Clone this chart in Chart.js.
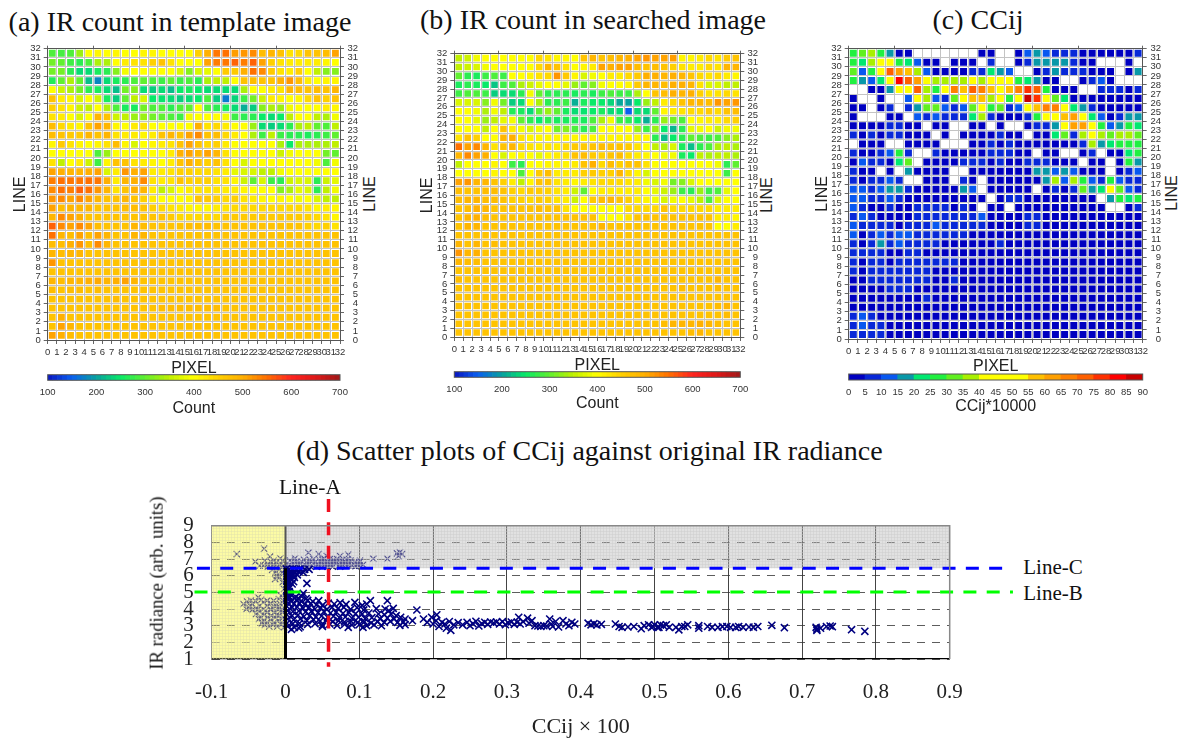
<!DOCTYPE html>
<html><head><meta charset="utf-8">
<script src="https://cdn.jsdelivr.net/npm/chart.js@4/dist/chart.umd.min.js"></script>
<style>
html,body{margin:0;padding:0;background:#fff;width:1179px;height:740px;overflow:hidden}
canvas{position:absolute;display:block}
.t{position:absolute;white-space:nowrap;color:#111;transform:translate(-50%,-50%);line-height:1;z-index:2}
.serif{font-family:"Liberation Serif",serif}
.sans{font-family:"Liberation Sans",sans-serif;color:#222}
.rot{transform:translate(-50%,-50%) rotate(-90deg)}
</style></head><body>
<div class="t serif" style="left:180px;top:22px;font-size:28px">(a) IR count in template image</div>
<div class="t serif" style="left:593px;top:20px;font-size:28px">(b) IR count in searched image</div>
<div class="t serif" style="left:978px;top:20px;font-size:28px">(c) CCij</div>
<div class="t serif" style="left:589.5px;top:451px;font-size:28px">(d) Scatter plots of CCij against original IR radiance</div>
<div class="t sans rot" style="left:370px;top:194px;font-size:16px">LINE</div>
<div class="t sans rot" style="left:767px;top:195px;font-size:16px">LINE</div>
<div class="t sans rot" style="left:1172px;top:193px;font-size:16px">LINE</div>
<div class="t serif rot" style="left:157px;top:583px;font-size:18.7px">IR radiance (arb. units)</div>
<div class="t serif" style="left:310px;top:488px;font-size:21.5px">Line-A</div>
<div class="t serif" style="left:1053px;top:567px;font-size:21px">Line-C</div>
<div class="t serif" style="left:1053px;top:593px;font-size:21px">Line-B</div>
<canvas id="a"></canvas><canvas id="b"></canvas><canvas id="c"></canvas>
<canvas id="ba"></canvas><canvas id="bb"></canvas><canvas id="bc"></canvas>
<canvas id="d"></canvas>
<script>
// rows are listed from the top row of the panel (line 31-32) down to line 0-1
const templateCounts = [
[290,285,290,330,400,410,400,410,400,400,410,410,400,400,400,400,450,500,545,550,515,520,530,480,490,470,430,440,470,470,480,510],
[310,300,280,270,290,340,340,400,420,430,430,450,470,430,400,400,400,510,540,545,560,540,560,510,450,430,420,420,420,420,410,400],
[310,310,270,240,240,260,270,320,390,400,400,400,400,400,370,320,370,380,400,460,460,500,550,530,460,430,420,450,400,350,320,320],
[265,300,340,300,220,180,240,260,270,290,300,290,280,300,280,290,270,340,350,350,400,470,480,470,470,500,520,480,420,400,410,410],
[400,360,340,310,270,260,240,220,310,320,240,230,240,220,250,260,250,240,240,240,240,340,400,400,420,430,490,480,470,480,470,490],
[470,420,410,370,400,360,260,230,300,350,370,250,245,240,230,240,250,290,230,170,235,280,310,360,420,410,400,410,440,470,450,470],
[450,430,410,360,350,400,340,290,260,260,310,290,290,270,290,300,400,290,270,260,240,210,230,320,340,330,390,400,400,400,420,410],
[430,420,400,370,400,490,470,360,350,330,330,310,300,290,280,390,400,400,400,390,280,270,270,250,240,250,350,400,400,350,340,390],
[480,440,420,410,470,510,490,410,400,420,430,400,400,400,400,400,500,430,440,420,400,400,330,240,230,240,270,340,350,300,290,350],
[480,470,460,460,490,470,490,430,420,420,410,420,470,490,470,510,530,470,480,440,420,400,340,280,350,280,270,270,260,270,280,300],
[410,460,430,410,400,410,430,480,410,370,400,410,420,430,470,510,470,440,450,420,400,400,400,400,400,340,250,340,340,340,340,350],
[400,400,400,400,400,290,330,400,400,400,400,400,400,420,500,510,490,510,490,430,400,400,400,400,400,360,390,400,400,400,310,300],
[430,350,400,420,360,280,410,470,470,430,420,410,400,420,470,500,470,450,470,430,400,370,400,400,400,400,400,400,400,390,290,390],
[510,500,490,490,500,510,370,420,520,500,510,420,420,430,450,450,440,440,430,420,380,370,370,350,350,390,400,400,400,400,400,400],
[540,550,545,545,550,545,500,420,490,500,530,430,420,430,470,450,450,450,430,430,410,360,300,370,280,270,360,370,370,270,360,380],
[530,550,540,560,550,520,490,430,470,500,490,420,350,370,400,420,430,430,430,420,420,410,400,400,400,320,340,380,370,270,350,390],
[520,530,510,530,510,490,470,470,490,470,450,420,400,400,400,410,470,460,450,440,450,430,420,410,400,410,400,390,400,370,350,350],
[510,480,490,490,490,470,470,470,480,480,470,450,440,430,420,410,410,410,420,430,440,440,440,440,440,440,440,440,430,410,420,410],
[490,530,510,500,470,470,470,470,470,470,470,470,470,460,440,440,440,440,440,460,460,460,460,460,460,460,460,460,450,440,430,410],
[560,530,510,530,510,480,470,470,470,490,480,470,470,470,470,480,480,480,470,470,470,470,470,470,470,470,470,470,450,440,450,430],
[550,490,480,510,480,510,490,470,470,490,490,470,470,470,470,470,470,470,470,470,470,470,470,470,470,470,470,470,470,470,470,470],
[480,480,500,520,480,530,490,470,470,470,470,470,470,470,470,470,470,470,470,470,470,470,470,470,470,470,470,470,470,470,470,470],
[490,480,490,490,470,470,470,470,470,470,470,470,470,470,470,470,470,470,470,470,470,470,470,470,470,470,470,470,470,470,470,470],
[520,470,470,470,470,470,470,470,470,470,470,470,470,470,470,470,470,470,470,470,470,470,470,470,470,470,470,470,470,470,470,470],
[470,470,470,470,470,470,470,470,470,470,470,470,470,470,470,470,470,470,470,470,470,470,470,470,470,470,470,470,470,470,470,470],
[490,480,490,490,500,505,490,500,510,490,470,470,470,470,470,470,470,470,470,470,470,470,470,470,470,470,470,470,470,470,470,470],
[480,470,480,480,470,480,470,470,470,470,470,470,470,470,470,470,470,470,470,470,470,470,470,470,470,470,470,470,470,470,470,470],
[470,470,470,470,470,470,470,480,470,470,470,470,470,470,470,470,470,470,470,470,470,470,470,470,470,470,470,470,470,470,470,470],
[470,470,470,470,470,470,470,470,470,470,470,470,480,480,480,480,480,480,480,470,470,470,470,470,470,470,470,470,470,470,470,470],
[470,500,470,470,470,470,470,470,470,470,470,470,470,470,470,470,470,470,470,470,470,470,470,470,470,470,470,470,470,470,470,470],
[470,510,490,470,470,470,470,470,470,470,470,470,470,470,470,470,470,470,470,470,470,470,470,470,470,470,470,470,470,470,470,470],
[510,500,480,470,470,470,470,470,470,470,470,470,470,470,470,470,470,470,470,470,470,470,470,470,470,470,470,470,470,470,470,470]
];
const searchedCounts = [
[350,360,390,400,400,400,400,400,400,440,430,410,410,400,470,490,470,480,490,500,510,520,510,510,515,410,410,420,440,430,460,470],
[350,360,370,390,400,400,400,400,400,440,490,470,430,400,410,420,510,500,510,510,480,470,480,470,450,430,420,420,440,430,490,490],
[300,270,260,280,290,280,400,400,410,430,440,520,460,410,370,390,400,420,420,440,460,500,500,490,500,490,470,440,430,440,420,410],
[260,270,260,250,225,280,290,340,360,380,400,400,380,330,300,320,390,400,400,410,460,490,490,480,500,500,490,430,370,370,350,350],
[280,290,290,280,230,240,240,270,390,300,270,270,270,260,270,260,280,290,280,280,340,400,470,480,500,490,500,450,430,430,440,430],
[370,370,370,320,390,310,230,240,400,340,270,270,280,210,260,250,250,235,205,200,250,330,350,420,440,470,490,490,480,520,510,520],
[400,400,390,340,390,350,265,260,240,300,330,300,260,240,245,250,260,240,240,150,240,240,300,410,420,430,440,440,460,440,470,480],
[400,400,380,330,350,380,390,300,270,250,270,260,260,265,260,290,340,390,280,270,250,210,270,330,310,290,400,410,420,420,440,450],
[400,400,400,350,400,470,420,390,370,390,400,310,320,290,270,290,400,400,400,400,330,280,330,250,215,270,380,390,400,360,390,390],
[430,470,450,400,400,490,500,430,410,410,410,410,410,410,410,410,410,410,410,410,410,410,270,220,250,270,300,290,280,290,320,340],
[550,510,530,490,430,470,490,440,430,420,430,420,440,460,460,470,480,470,470,460,430,400,350,340,370,260,220,270,290,340,350,340],
[490,530,510,500,400,370,400,410,400,380,410,420,430,470,480,460,450,470,480,440,420,410,400,390,390,260,250,350,340,350,350,340],
[350,400,400,400,410,400,280,270,400,400,410,410,410,420,470,500,440,480,450,470,470,430,400,400,400,400,400,400,400,390,270,300],
[400,400,400,400,410,400,400,290,400,460,480,420,420,420,450,460,450,450,490,440,410,370,400,400,400,400,400,400,400,400,280,400],
[510,520,490,490,470,450,420,350,410,470,470,430,420,410,420,430,440,440,440,430,420,390,370,390,310,320,370,400,400,400,400,400],
[480,470,470,480,480,470,450,440,460,460,450,430,420,360,300,400,420,420,420,420,420,400,380,360,330,280,270,330,280,290,380,400],
[480,490,490,480,480,470,450,450,440,460,450,430,420,360,400,460,480,490,470,450,420,410,390,370,390,400,380,350,290,370,400,400],
[470,480,500,490,470,470,470,470,470,480,470,470,430,400,400,400,400,400,400,440,440,440,440,470,440,440,440,440,440,420,420,420],
[470,490,500,480,470,470,470,470,470,470,470,470,470,470,470,470,400,400,400,430,470,470,470,470,470,470,470,470,470,420,420,410],
[470,490,490,470,470,470,470,470,470,470,470,470,470,470,470,470,490,470,470,470,470,470,470,470,470,470,470,470,470,400,400,420],
[470,470,470,470,470,470,470,470,470,470,470,470,470,470,470,470,470,470,470,470,470,470,470,470,470,470,470,470,470,470,470,470],
[490,470,490,470,480,470,470,470,470,470,470,470,470,470,470,470,470,470,470,470,470,470,470,470,470,470,470,470,470,470,470,470],
[520,490,500,470,470,470,470,470,470,470,470,470,470,470,470,470,470,470,470,470,470,470,470,470,470,470,470,470,470,470,470,470],
[490,480,480,470,470,470,470,470,470,470,470,470,470,470,470,470,470,470,470,470,470,470,470,470,470,470,470,470,470,470,470,470],
[470,470,470,470,470,470,470,470,470,470,470,470,470,470,470,470,470,470,470,470,470,470,470,470,470,470,470,470,470,470,470,470],
[480,470,470,470,470,470,470,470,470,470,470,470,470,470,470,470,470,470,470,470,470,470,470,470,470,470,470,470,470,490,470,470],
[470,470,470,470,470,470,470,470,470,470,470,470,470,470,470,470,470,470,470,470,470,470,470,470,470,480,470,470,470,480,470,470],
[470,470,470,470,470,470,470,470,470,470,470,470,470,470,470,470,470,470,470,470,470,470,470,470,470,470,470,470,470,470,470,470],
[470,470,470,470,470,470,470,470,470,470,470,470,470,470,470,470,470,470,470,470,470,470,470,470,470,470,470,470,470,480,490,470],
[470,470,470,470,470,470,470,470,470,470,470,470,470,470,470,470,470,470,470,470,470,470,470,470,470,470,470,470,470,470,480,470],
[470,470,470,470,470,470,470,470,470,470,470,470,470,470,470,470,470,470,470,470,470,470,470,480,490,490,490,500,490,480,470,470],
[470,470,470,470,470,470,470,470,470,470,470,470,470,470,470,470,470,470,470,470,470,470,470,470,470,470,480,490,470,470,470,470]
];
const _ = null; // no value: the cell stays white
const ccijValues = [
[27,30,37,27,17,2,2,_,_,_,_,_,_,_,2,2,_,_,2,12,17,12,7,7,7,2,2,2,2,2,2,7],
[27,22,35,45,45,25,22,12,2,2,_,2,2,2,_,7,_,_,2,7,17,17,17,17,7,2,2,_,_,_,2,_],
[30,12,25,45,72,60,57,37,12,2,2,2,2,7,7,22,17,12,_,_,2,7,17,7,7,7,2,2,2,_,2,17],
[25,17,12,22,45,82,72,60,45,38,37,37,37,42,38,42,45,45,27,22,17,2,2,_,_,2,7,12,2,_,_,_],
[_,_,2,2,17,45,45,70,37,25,45,65,57,70,65,57,45,57,65,75,72,25,2,2,2,_,_,7,7,7,2,7],
[2,_,_,2,_,_,12,45,37,12,7,30,45,57,57,38,45,27,42,87,77,45,30,22,2,2,2,2,2,2,2,2],
[2,2,_,2,7,_,7,17,30,30,12,7,12,32,45,27,30,7,12,45,57,65,67,45,22,17,7,2,2,2,2,2],
[2,_,_,_,2,2,_,12,7,12,7,7,7,22,35,7,2,2,2,7,27,45,45,57,60,45,22,12,2,7,17,17],
[2,2,2,2,7,7,2,2,_,2,2,_,_,2,2,_,2,_,_,2,7,7,17,45,60,62,45,27,12,17,25,22],
[7,2,7,2,7,7,2,2,2,_,2,_,2,2,2,2,7,2,2,_,2,2,22,30,7,37,45,37,33,37,37,33],
[_,2,2,2,_,_,2,2,2,2,_,_,_,2,2,7,2,7,2,2,2,2,2,2,2,7,37,17,22,25,25,27],
[7,2,2,7,12,27,7,_,_,7,2,2,2,2,2,7,7,7,2,2,_,2,2,_,_,2,7,_,2,2,22,25],
[2,12,7,7,2,22,30,_,2,2,2,2,7,7,7,2,7,2,2,7,7,7,2,2,2,_,2,2,_,2,25,17],
[7,2,2,_,2,_,17,2,2,2,2,_,_,2,2,2,2,2,2,2,17,17,12,17,12,2,2,2,_,2,7,12],
[7,2,7,7,12,7,_,_,2,2,2,_,7,2,_,2,2,2,2,2,2,17,37,12,37,27,12,7,25,12,7,7],
[12,12,7,12,17,17,7,2,2,2,2,2,17,12,_,2,2,2,2,2,_,2,7,2,7,30,17,22,45,30,12,7],
[12,12,7,7,12,7,2,2,2,2,2,2,2,2,2,_,2,7,7,2,2,2,2,2,2,2,2,_,17,25,22,25],
[12,7,2,2,7,2,2,7,7,7,7,2,7,2,_,2,2,_,2,2,2,2,2,2,2,2,2,2,_,_,2,7],
[7,12,7,2,2,2,2,7,7,7,7,7,7,7,12,2,2,2,2,7,7,2,2,2,2,2,2,2,2,2,2,2],
[12,7,7,7,7,2,7,7,7,12,7,7,7,7,7,2,2,2,2,7,7,2,2,2,2,2,2,2,2,2,2,2],
[12,2,7,12,7,12,12,7,7,7,7,7,7,2,2,2,2,2,2,2,2,2,2,2,2,2,2,2,2,2,2,2],
[7,2,7,17,7,12,7,7,7,7,2,2,2,2,2,2,7,2,2,2,2,2,2,2,2,2,2,2,2,2,2,2],
[7,7,7,7,2,2,7,7,2,2,2,2,2,2,2,2,2,2,2,2,2,2,2,2,2,2,2,2,2,2,2,2],
[7,2,7,7,2,7,7,7,7,7,7,7,2,2,2,2,2,2,2,2,2,2,2,2,2,2,2,2,2,2,2,2],
[7,2,7,7,7,7,7,7,7,2,2,2,2,2,2,2,2,2,2,2,2,2,2,2,2,2,2,2,2,2,2,2],
[2,2,7,7,7,7,7,7,7,2,2,7,2,2,2,2,2,2,2,2,2,2,2,2,2,2,2,2,2,2,2,2],
[2,2,2,2,7,7,7,2,2,2,2,2,2,2,2,2,2,2,2,2,2,2,2,2,2,2,2,2,2,2,2,2],
[2,2,2,2,2,2,2,2,7,2,2,2,2,2,2,2,2,2,2,2,2,2,2,2,2,2,2,2,2,2,2,2],
[2,2,2,2,2,2,2,2,2,2,2,2,2,2,2,2,2,2,2,2,2,2,2,2,2,2,2,2,2,2,2,2],
[7,12,7,2,2,2,2,2,2,2,2,2,2,2,2,2,2,2,2,2,2,2,2,2,2,2,2,2,2,2,2,2],
[7,12,7,7,2,2,2,2,2,2,2,2,2,2,2,2,2,2,2,2,2,2,2,2,2,2,2,2,2,2,2,2],
[7,7,7,7,2,2,2,2,2,2,2,2,2,2,2,2,2,2,2,2,2,2,2,2,2,2,2,2,2,2,2,2]
];
const countStops = [[100,'#0a14c0'],[150,'#0a60f0'],[200,'#08a0a0'],[250,'#08ea68'],[300,'#60f030'],[350,'#c0f000'],[400,'#ffff00'],[450,'#ffd000'],[500,'#ffb000'],[550,'#ff7000'],[600,'#ff2420'],[650,'#e01818'],[700,'#a01818']];
const ccijPalette = ['#0000c0','#0828d8','#0858f0','#0898a8','#00e870','#20f040','#60f020','#a8f000','#ffff00','#ffff00','#ffff00','#ffc000','#ffa000','#ff8000','#ff6000','#ff3000','#ff0000','#c80000'];
const lineTicks = {min:0,max:32,step:1};
const countTickStep = 100, ccijTickStep = 5;

// (d) scatter points, [CCij x 100, IR radiance]
const columnNearZero = [[0.001,6.4],[0.005,6.38],[0.01,6.4],[0.015,6.38],[0.02,6.4],[0.026,6.38],[0.032,6.38],[0.002,6.25],[0.007,6.22],[0.012,6.25],[0.018,6.24],[0.024,6.2],[0.002,6.1],[0.006,6.08],[0.011,6.1],[0.016,6.05],[0.002,5.95],[0.006,5.92],[0.012,5.9],[0.002,5.8],[0.007,5.78],[0.002,5.65],[0.011,5.64],[0.029,5.54],[0.003,5.5],[0.002,5.35],[0.006,5.3],[0.002,5.15],[0.005,5.05],[0.003,4.95],[0.024,4.94],[0.002,4.8],[0.022,4.75],[0.006,4.7],[0.012,4.65],[0.028,4.62],[0.004,6.0],[0.009,6.0],[0.004,5.7],[0.009,5.5],[0.004,5.2],[0.002,4.7],[0.008,4.85],[0.014,4.72],[0.018,4.62]];
const lowerCloud = [[0.002,4.6],[0.008,4.5],[0.015,4.55],[0.021,4.48],[0.03,4.52],[0.037,4.45],[0.045,4.5],[0.004,4.35],[0.011,4.3],[0.019,4.34],[0.026,4.28],[0.034,4.32],[0.042,4.26],[0.05,4.22],[0.058,4.35],[0.066,4.3],[0.074,4.38],[0.082,4.28],[0.094,4.4],[0.104,4.22],[0.115,4.5],[0.11,4.3],[0.138,4.5],
[0.002,4.15],[0.009,4.1],[0.016,4.12],[0.024,4.05],[0.032,4.1],[0.04,4.0],[0.048,4.06],[0.056,3.98],[0.063,4.1],[0.071,4.02],[0.079,4.1],[0.088,3.98],[0.097,4.08],[0.106,3.95],[0.123,4.02],[0.135,4.0],[0.146,4.04],[0.14,3.9],
[0.003,3.9],[0.01,3.85],[0.018,3.88],[0.027,3.82],[0.035,3.86],[0.044,3.78],[0.052,3.84],[0.061,3.76],[0.069,3.82],[0.078,3.74],[0.086,3.8],[0.095,3.72],[0.104,3.7],[0.113,3.76],[0.126,3.7],[0.134,3.66],[0.143,3.7],[0.15,3.6],
[0.002,3.65],[0.009,3.6],[0.017,3.64],[0.025,3.55],[0.033,3.6],[0.041,3.52],[0.049,3.58],[0.057,3.5],[0.065,3.56],[0.073,3.48],[0.081,3.52],[0.09,3.44],[0.099,3.5],[0.108,3.42],[0.117,3.48],[0.128,3.42],[0.138,3.46],[0.147,3.4],[0.156,3.5],[0.162,3.4],
[0.003,3.4],[0.011,3.36],[0.02,3.4],[0.029,3.3],[0.038,3.36],[0.047,3.28],[0.055,3.32],[0.064,3.24],[0.072,3.3],[0.08,3.22],[0.089,3.26],[0.098,3.2],[0.107,3.24],[0.116,3.16],[0.125,3.24],[0.134,3.2],[0.142,3.26],[0.152,3.2],[0.16,3.22],
[0.002,3.15],[0.01,3.12],[0.019,3.14],[0.03,3.08],[0.04,3.12],[0.05,3.04],[0.06,3.1],[0.07,3.02],[0.08,3.08],[0.09,3.04],[0.1,3.06],[0.11,3.0],[0.12,3.05],[0.13,3.0],[0.155,3.02],[0.162,3.06],
[0.003,2.95],[0.012,2.9],[0.018,2.86],[0.008,2.78],[0.02,2.94],[0.05,2.95],[0.085,2.9],[0.105,2.9]];
const farBand = [[0.178,3.94],[0.172,3.3],[0.187,3.4],[0.192,3.2],[0.198,3.5],[0.2,3.1],[0.204,3.3],[0.208,2.95],[0.205,3.65],[0.212,3.2],[0.216,3.1],[0.222,3.25],[0.218,2.85],[0.224,2.72],[0.228,3.05],
[0.234,3.18],[0.24,3.05],[0.246,3.2],[0.25,3.0],[0.254,3.12],[0.258,3.26],[0.262,2.98],[0.266,3.12],[0.27,3.2],[0.274,3.08],[0.278,3.22],[0.282,3.16],[0.286,3.22],[0.29,3.1],[0.294,3.24],[0.298,3.06],[0.302,3.16],[0.306,3.22],[0.31,3.08],[0.314,3.2],[0.318,3.1],[0.322,3.24],[0.316,3.5],[0.328,3.45],[0.33,3.15],[0.334,3.3],[0.338,3.0],[0.342,2.98],[0.346,2.95],[0.35,3.0],[0.354,2.98],
[0.358,3.4],[0.36,3.1],[0.362,2.95],[0.366,3.25],[0.37,2.92],[0.376,3.3],[0.38,3.1],[0.384,3.0],[0.388,3.2],[0.392,3.1],
[0.41,3.15],[0.414,3.05],[0.418,3.12],[0.422,3.04],[0.428,3.08],[0.447,3.1],[0.452,2.95],[0.456,2.9],[0.464,2.92],[0.472,2.95],
[0.482,2.82],[0.486,3.0],[0.492,3.05],[0.496,2.9],[0.5,3.05],[0.504,2.9],[0.508,3.05],[0.512,3.0],[0.516,3.05],[0.52,2.9],[0.498,2.95],[0.506,2.9],
[0.529,2.9],[0.533,2.75],[0.537,2.95],[0.541,2.95],[0.545,3.05],[0.56,3.0],[0.56,2.85],[0.572,2.95],[0.578,2.9],[0.586,2.9],[0.592,2.94],[0.598,2.95],[0.603,2.9],[0.61,2.9],[0.614,2.95],[0.62,2.9],[0.628,2.92],[0.634,2.9],[0.64,2.95],[0.659,3.02],[0.676,2.88],[0.719,2.9],[0.72,2.8],[0.72,2.72],[0.725,2.85],[0.733,2.95],[0.738,2.98],[0.741,2.94],[0.767,2.76],[0.785,2.66]];
const grayZonePoints = [[0.004,6.6],[0.01,6.75],[0.013,7.04],[0.018,6.6],[0.022,6.85],[0.027,6.62],[0.031,7.38],[0.033,6.95],[0.036,6.62],[0.04,6.8],[0.045,7.3],[0.046,6.6],[0.05,6.95],[0.053,6.62],[0.056,7.18],[0.058,6.8],[0.062,6.6],[0.065,6.95],[0.068,6.72],[0.072,6.6],[0.074,7.18],[0.076,6.9],[0.08,6.7],[0.085,7.26],[0.085,6.62],[0.088,6.9],[0.092,6.7],[0.095,6.58],[0.1,6.8],[0.101,6.9],[0.105,6.65],[0.006,6.9],[0.008,6.58],[0.015,6.85],[0.02,6.72],[0.025,6.95],[0.03,6.72],[0.035,6.85],[0.038,7.0],[0.043,6.68],[0.048,6.78],[0.052,7.05],[0.055,6.7],[0.06,7.0],[0.063,6.75],[0.067,6.85],[0.07,7.0],[0.075,6.75],[0.079,6.85],[0.083,6.95],[0.09,6.62],[0.097,6.72],[0.119,7.02],[0.138,7.02],[0.151,7.34],[0.158,7.3],[0.153,7.18],[0.155,7.4],
[0.012,6.55],[0.016,6.7],[0.024,6.55],[0.028,6.8],[0.034,6.55],[0.038,6.72],[0.042,6.55],[0.047,6.9],[0.05,6.55],[0.054,6.85],[0.057,6.55],[0.06,6.72],[0.064,6.55],[0.07,6.8],[0.074,6.55],[0.078,6.62],[0.082,6.8],[0.086,6.75],[0.094,6.8],[0.1,6.6]];
const yellowZonePoints = [[-0.066,7.3],[-0.029,7.62],[-0.041,6.84],[-0.021,7.14],[-0.016,6.9],[-0.007,7.04],[-0.002,6.6],[-0.006,6.7],[-0.011,6.55],[-0.018,6.6],[-0.024,6.7],[-0.03,6.6],[-0.012,6.8],[-0.004,6.9],[-0.02,6.85],[-0.035,6.6],[-0.004,6.2],[-0.012,6.0],[-0.008,5.9],[-0.014,5.8],[-0.004,5.6],[-0.002,5.2],[-0.006,4.8],[-0.003,4.5],
[-0.037,4.7],[-0.057,4.3],[-0.05,4.1],[-0.045,4.3],[-0.04,4.45],[-0.035,4.2],[-0.03,4.4],[-0.025,4.2],[-0.02,4.35],[-0.013,4.2],[-0.007,4.3],[-0.002,4.1],[-0.045,3.95],[-0.04,4.05],[-0.035,3.85],[-0.03,4.0],[-0.025,3.8],[-0.02,3.95],[-0.015,3.8],[-0.01,3.95],[-0.004,3.8],[-0.04,3.7],[-0.034,3.55],[-0.029,3.65],[-0.024,3.5],[-0.019,3.6],[-0.014,3.5],[-0.009,3.6],[-0.003,3.5],[-0.03,3.3],[-0.025,3.2],[-0.02,3.35],[-0.015,3.2],[-0.01,3.3],[-0.005,3.2],[-0.028,3.05],[-0.022,2.95],[-0.017,3.05],[-0.011,2.95],[-0.006,3.05],[-0.002,2.9],
[-0.052,4.45],[-0.047,4.52],[-0.033,4.55],[-0.025,4.5],[-0.016,4.5],[-0.009,4.6],[-0.053,4.0],[-0.048,4.2],[-0.038,3.95],[-0.027,3.9],[-0.018,4.1],[-0.008,4.1],[-0.036,3.4],[-0.032,3.15],[-0.012,3.65],[-0.006,3.9],[-0.028,6.9],[-0.024,6.55],[-0.015,6.55],[-0.009,6.35],[-0.005,6.5],[-0.013,6.25],[-0.018,6.35]];
const lineC = [[-0.12,6.45],[0.9725,6.45]];
const lineB = [[-0.1233,5.02],[0.9857,5.02]];
const lineA = [[0.0583,10.6],[0.0583,0.54]];
const zeroAxisSolid = [[0,1],[0,6.45]];
const zeroAxisGray = [[0,6.45],[0,9]];

function hex(h){return [1,3,5].map(i=>parseInt(h.substr(i,2),16));}
function countColor(v){
  for(let i=1;i<countStops.length;i++){
    if(v<=countStops[i][0]){
      const a=countStops[i-1],b=countStops[i],t=(v-a[0])/(b[0]-a[0]);
      const A=hex(a[1]),B=hex(b[1]);
      return 'rgb('+A.map((c,k)=>Math.round(c+(B[k]-c)*t)).join(',')+')';
    }
  }
  return countStops[countStops.length-1][1];
}
function ccijColor(v){return ccijPalette[Math.min(ccijPalette.length-1,Math.floor(v/5))];}

const SANS='"Liberation Sans",sans-serif', SERIF='"Liberation Serif",serif';
Chart.defaults.animation=false;
Chart.defaults.responsive=false;
Chart.defaults.plugins.legend.display=false;
Chart.defaults.plugins.tooltip.enabled=false;

function place(id,l,t,w,h){const c=document.getElementById(id);c.width=w;c.height=h;c.style.left=l+'px';c.style.top=t+'px';c.style.width=w+'px';c.style.height=h+'px';return c;}
const fit=s=>function(a){if(a.isHorizontal())a.height=s;else a.width=s;};

function heat(id,box,plot,rows,colorOf,cellSide){
  const [L,T,W,H]=box,[x0,y0,x1,y1]=plot,pts=[];
  rows.forEach((row,r)=>row.forEach((v,i)=>{if(v!==null)pts.push({x:i+.5,y:rows.length-r-.5,v});}));
  const gridC='#c4c4c4',frame='#555',tick=(pos,title,extra)=>Object.assign({type:'linear',position:pos,min:lineTicks.min,max:lineTicks.max,
    border:{color:frame,width:1},
    grid:{color:gridC,lineWidth:1,tickColor:'#666',tickLength:4},
    ticks:{stepSize:lineTicks.step,autoSkip:false,maxRotation:0,minRotation:0,includeBounds:true,padding:3,color:'#333',font:{family:SANS,size:9.5}},
    title:title?{display:true,text:title,color:'#222',font:{family:SANS,size:16},padding:0}:{display:false}},extra);
  new Chart(place(id,L,T,W,H),{type:'scatter',data:{datasets:[{data:pts,showLine:false,pointStyle:'rect',pointRadius:cellSide/Math.SQRT2,pointBorderWidth:0,borderWidth:0,
      backgroundColor:c=>colorOf(c.raw.v),pointBackgroundColor:c=>colorOf(c.raw.v),pointBorderColor:'transparent'}]},
    options:{layout:{padding:0},scales:{
      x:tick('bottom','PIXEL',{afterFit:fit(T+H-y1)}),
      y:tick('left','LINE',{afterFit:fit(x0-L)}),
      xTop:tick('top',null,{afterFit:fit(y0-T),ticks:{display:false},grid:{drawOnChartArea:false,color:frame,tickColor:'#666',tickLength:3}}),
      yRight:tick('right',null,{afterFit:fit(L+W-x1),ticks:{stepSize:1,autoSkip:false,crossAlign:'far',padding:3,color:'#333',font:{family:SANS,size:9.5}},grid:{drawOnChartArea:false,color:frame,tickColor:'#666',tickLength:4}})
    }}});
}
heat('a',[11,40,347,338],[47.7,48.5,340,340],templateCounts,countColor,6.8);
heat('b',[418,45,340,330],[454.3,52.7,740.3,337],searchedCounts,countColor,6.6);
heat('c',[813,40,348,336],[848.7,47.7,1142.7,339],ccijValues,ccijColor,7);

function bar(id,box,plot,vmin,vmax,binW,step,colorOf,title){
  const [L,T,W,H]=box,[x0,y0,x1,y1]=plot,pts=[],cols=[];
  for(let v=vmin+binW/2;v<vmax;v+=binW){pts.push({x:v,y:1});cols.push(colorOf(v));}
  new Chart(place(id,L,T,W,H),{type:'bar',data:{datasets:[{data:pts,backgroundColor:cols,borderWidth:0,barPercentage:1,categoryPercentage:1}]},
    options:{layout:{padding:{left:x0-L,right:L+W-x1,top:y0-T,bottom:0}},scales:{
      x:{type:'linear',min:vmin,max:vmax,offset:false,afterFit:fit(T+H-y1),border:{display:false},grid:{display:false,drawTicks:false},
         ticks:{stepSize:step,autoSkip:false,maxRotation:0,padding:6.5,color:'#333',font:{family:SANS,size:9.5}},
         title:{display:true,text:title,color:'#222',font:{family:SANS,size:16},padding:0}},
      y:{display:false,min:0,max:1}}},
    plugins:[{id:'frame',afterDatasetsDraw(ch){const a=ch.chartArea,g=ch.ctx;g.save();g.strokeStyle='#555';g.lineWidth=1;g.strokeRect(a.left,a.top,a.right-a.left,a.bottom-a.top);g.restore();}}]});
}
bar('ba',[30,370,330,48],[47.7,374.7,340,380.3],100,700,10,countTickStep,countColor,'Count');
bar('bb',[436,367,323,46],[454.3,371.7,740.3,377.3],100,700,10,countTickStep,countColor,'Count');
bar('bc',[830,370,331,46],[848.7,374,1142.7,380],0,90,5,ccijTickStep,ccijColor,'CCij*10000');

// (d)
function tile(draw){const c=document.createElement('canvas');c.width=c.height=3;draw(c.getContext('2d'));return c;}
const toXY=a=>a.map(p=>({x:p[0],y:p[1]}));
const marker=(pts,color,r,w,order)=>({data:toXY(pts),showLine:false,pointStyle:'crossRot',pointRadius:r,pointBorderWidth:w,pointBorderColor:color,pointBackgroundColor:color,order});
const rule=(pts,color,w,dash,order)=>({data:toXY(pts),showLine:true,pointRadius:0,borderColor:color,backgroundColor:color,borderWidth:w,borderDash:dash,clip:false,order});
const L=147,T=480,W=873,H=260,px0=211.7,py0=525.7,px1=949.7,py1=659;
new Chart(place('d',L,T,W,H),{type:'scatter',data:{datasets:[
  rule(lineA,'#f01020',3.5,[13,10.3],0),
  rule(lineC,'#0000ff',3,[13,10.3],0),
  rule(lineB,'#00ff00',3,[13,10.3],0),
  rule(zeroAxisSolid,'#000',3,[],1),
  marker(columnNearZero,'#000080',5,1.6,2),
  marker(lowerCloud,'#000080',5,1.6,2),
  marker(farBand,'#000080',5,1.6,2),
  rule(zeroAxisGray,'#555',2,[],3),
  marker(grayZonePoints,'#15156e',4.5,1.2,4),
  marker(yellowZonePoints,'#20206e',4.5,1.2,5)
]},options:{layout:{padding:{top:py0-T,right:L+W-px1,left:0,bottom:0}},scales:{
  x:{type:'linear',min:-0.1,max:0.9,afterFit:fit(T+H-py1),border:{color:'#000',width:1.2},
     grid:{color:'#444',lineWidth:1,drawTicks:false},
     ticks:{stepSize:0.1,autoSkip:false,maxRotation:0,padding:21,color:'#222',font:{family:SERIF,size:21}},
     title:{display:true,text:'CCij × 100',color:'#222',font:{family:SERIF,size:22},padding:0}},
  y:{type:'linear',min:1,max:9,afterFit:fit(px0-L),
     grid:{color:'#333',lineWidth:.8,drawTicks:false},
     border:{color:'#888',width:1,dash:[8,7]},
     ticks:{stepSize:1,autoSkip:false,padding:18,color:'#222',font:{family:SERIF,size:21}}}
}},plugins:[{id:'zones',
  beforeDraw(ch){const g=ch.ctx,x=ch.scales.x,y=ch.scales.y;g.save();
    g.fillStyle='#fdfba4';g.fillRect(x.getPixelForValue(-0.1),y.getPixelForValue(9),x.getPixelForValue(0)-x.getPixelForValue(-0.1),y.getPixelForValue(1)-y.getPixelForValue(9));
    g.fillStyle='#dedede';g.fillRect(x.getPixelForValue(0),y.getPixelForValue(9),x.getPixelForValue(0.9)-x.getPixelForValue(0),y.getPixelForValue(6.45)-y.getPixelForValue(9));
    g.restore();},
  afterDatasetDraw(ch,args){ if(args.index!==8&&args.index!==9) return;
    const g=ch.ctx,x=ch.scales.x,y=ch.scales.y;g.save();
    if(args.index===9){
      g.fillStyle=g.createPattern(tile(t=>{t.fillStyle='rgba(253,251,170,.3)';t.fillRect(0,0,3,3);t.fillStyle='rgba(225,225,170,.45)';t.fillRect(0,0,3,1);t.fillRect(0,0,1,3);}),'repeat');
      g.fillRect(x.getPixelForValue(-0.1),y.getPixelForValue(9),x.getPixelForValue(0)-x.getPixelForValue(-0.1),y.getPixelForValue(1)-y.getPixelForValue(9));
    } else {
      g.fillStyle=g.createPattern(tile(t=>{t.fillStyle='rgba(232,232,232,.3)';t.fillRect(0,0,3,3);t.fillStyle='rgba(205,205,205,.45)';t.fillRect(0,0,3,1);t.fillRect(0,0,1,3);}),'repeat');
      g.fillRect(x.getPixelForValue(0),y.getPixelForValue(9),x.getPixelForValue(0.9)-x.getPixelForValue(0),y.getPixelForValue(6.45)-y.getPixelForValue(9));
    }
    g.restore();},
  afterDatasetsDraw(ch){const a=ch.chartArea,g=ch.ctx;g.save();g.strokeStyle='#888';g.lineWidth=1.5;g.beginPath();g.moveTo(a.left,a.top);g.lineTo(a.right,a.top);g.lineTo(a.right,a.bottom);g.stroke();g.restore();}
}]});
</script>
</body></html>
